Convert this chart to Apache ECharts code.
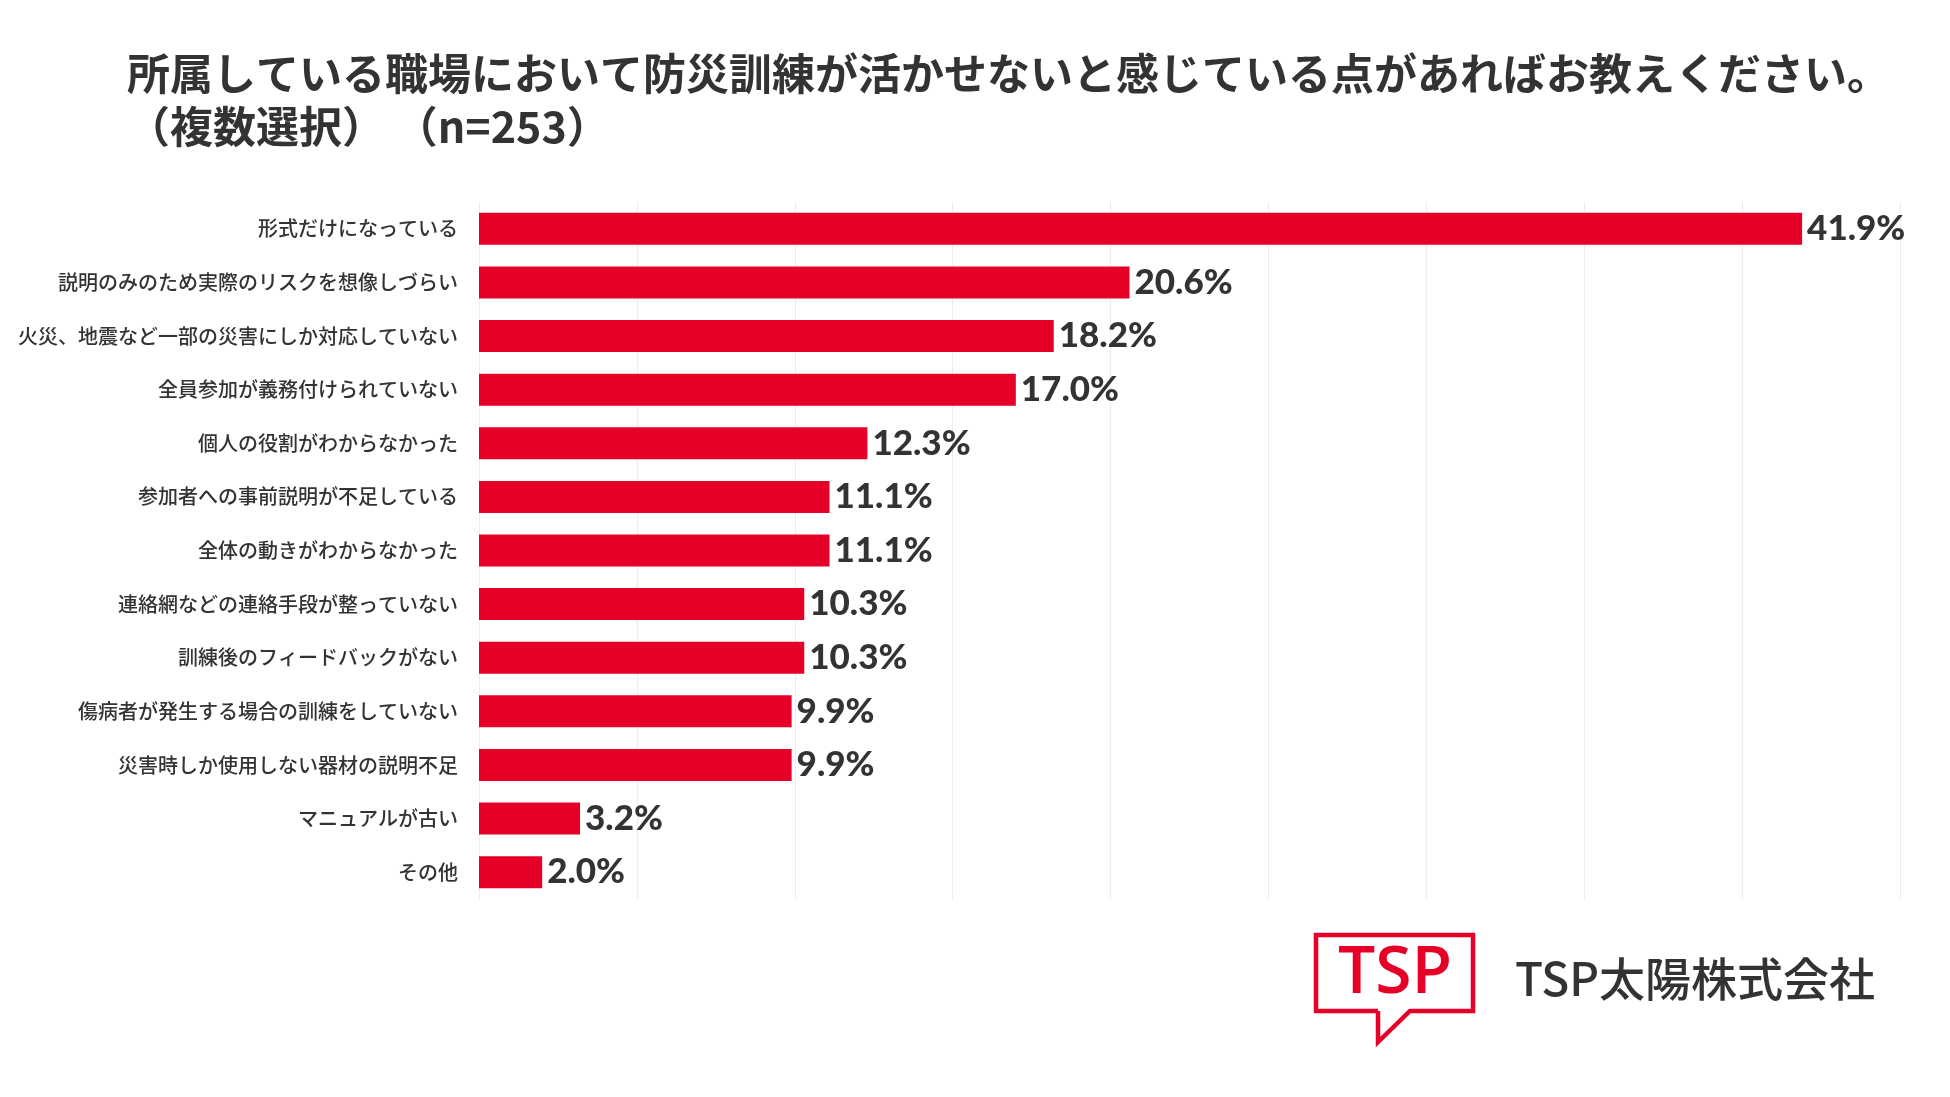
<!DOCTYPE html>
<html style="height: 100%">
  <head>
    <meta charset="utf-8">
  </head>
  <body style="height: 100%; margin: 0; background: #fff">
    <div id="container" style="width: 1950px; height: 1097px"></div>
    <script type="text/javascript" src="https://cdn.jsdelivr.net/npm/echarts@6/dist/echarts.min.js"></script>
    <script type="text/javascript">
      // 選択肢（上から順）
      let categories = [
        '形式だけになっている',
        '説明のみのため実際のリスクを想像しづらい',
        '火災、地震など一部の災害にしか対応していない',
        '全員参加が義務付けられていない',
        '個人の役割がわからなかった',
        '参加者への事前説明が不足している',
        '全体の動きがわからなかった',
        '連絡網などの連絡手段が整っていない',
        '訓練後のフィードバックがない',
        '傷病者が発生する場合の訓練をしていない',
        '災害時しか使用しない器材の説明不足',
        'マニュアルが古い',
        'その他'
      ];
      // 回答率（%）
      let percents = [41.9, 20.6, 18.2, 17.0, 12.3, 11.1, 11.1, 10.3, 10.3, 9.9, 9.9, 3.2, 2.0];

      let titleLines = [
        '所属している職場において防災訓練が活かせないと感じている点があればお教えください。',
        '（複数選択） （n=253）'
      ];
      let companyName = 'TSP太陽株式会社';

      let red = '#e60027';
      let dark = '#333333';
      let jp = '"Noto Sans CJK JP", "Noto Sans", sans-serif';

      let dom = document.getElementById('container');
      let myChart = echarts.init(dom);

      let option = {
        backgroundColor: '#ffffff',
        animation: false,
        title: {
          text: titleLines.join('\n'),
          left: 122,
          top: 42,
          textStyle: {
            fontFamily: jp,
            fontSize: 43,
            fontWeight: 'bold',
            lineHeight: 53,
            color: dark
          }
        },
        grid: {
          left: 479,
          right: 50,
          top: 202,
          bottom: 198
        },
        xAxis: {
          type: 'value',
          min: 0,
          max: 45,
          interval: 5,
          axisLabel: { show: false },
          axisLine: { show: false },
          axisTick: { show: false },
          splitLine: {
            show: true,
            lineStyle: { color: '#ececec', width: 1 }
          }
        },
        yAxis: {
          type: 'category',
          inverse: true,
          data: categories,
          axisLine: { show: false },
          axisTick: { show: false },
          axisLabel: {
            margin: 21,
            fontFamily: jp,
            fontSize: 20,
            fontWeight: 500,
            color: dark
          }
        },
        series: [{
          type: 'bar',
          data: percents,
          barWidth: 32,
          itemStyle: { color: red },
          label: {
            show: true,
            position: 'right',
            distance: 5,
            fontFamily: 'Lato, sans-serif',
            fontWeight: 900,
            fontSize: 35,
            color: dark,
            formatter: function (p) {
              return p.value.toFixed(1) + '%';
            }
          }
        }],
        graphic: {
          elements: [
            {
              // ロゴの吹き出し枠
              type: 'polyline',
              shape: {
                points: [
                  [1378, 1011], [1378, 1042], [1410, 1011], [1473, 1011],
                  [1473, 935], [1316, 935], [1316, 1011], [1378, 1011]
                ]
              },
              style: { stroke: red, lineWidth: 4.5, fill: null, lineJoin: 'miter' }
            },
            {
              type: 'text',
              x: 1395,
              y: 974,
              style: {
                text: 'TSP',
                fill: red,
                font: '600 66px "Open Sans", sans-serif',
                align: 'center',
                verticalAlign: 'middle'
              }
            },
            {
              type: 'text',
              x: 1515,
              y: 979,
              style: {
                text: companyName,
                fill: dark,
                font: '500 46px ' + jp,
                align: 'left',
                verticalAlign: 'middle'
              }
            }
          ]
        }
      };

      myChart.setOption(option);
    </script>
  </body>
</html>
